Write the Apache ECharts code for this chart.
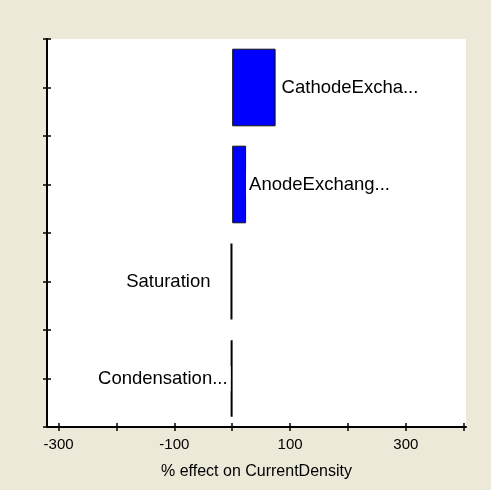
<!DOCTYPE html>
<html><head><meta charset="utf-8">
<script src="https://cdn.jsdelivr.net/npm/echarts@6/dist/echarts.min.js"></script>
<style>html,body{margin:0;padding:0;background:#ECE9D8;} #c{width:491px;height:490px;}</style>
</head><body><div id="c"></div>
<script>
const categories = ['CathodeExcha...', 'AnodeExchang...', 'Saturation', 'Condensation...'];
const effects = [75, 24, -2.5, -2];
const xTickValues = [-300, -200, -100, 0, 100, 200, 300, 400];
const xLabelValues = [-300, -100, 100, 300];
const axisTitle = '% effect on CurrentDensity';

const FONT = '"Liberation Sans", Arial, sans-serif';
const chart = echarts.init(document.getElementById('c'), null, {renderer: 'canvas'});

const seriesData = effects.map((v, i) => ({
  value: v,
  itemStyle: Math.abs(v) < 5 ? {color: '#000', borderColor: '#000', borderWidth: 2} : undefined,
  label: {
    position: v >= 0 ? 'right' : 'left',
    distance: v >= 0 ? (i === 0 ? 3 : 0) : (i === 2 ? 17 : 0)
  }
}));

chart.setOption({
  animation: false,
  backgroundColor: '#ECE9D8',
  grid: {left: 47, top: 39, width: 419, height: 388, show: true, backgroundColor: '#ffffff', borderWidth: 0},
  xAxis: [
    {
      type: 'value', min: -320, max: 404, position: 'bottom',
      splitLine: {show: false},
      axisLine: {show: true, onZero: false, lineStyle: {color: '#000', width: 2}},
      axisTick: {show: true, length: 4, inside: false, customValues: xTickValues, lineStyle: {color: '#000', width: 1.5}},
      axisLabel: {customValues: xLabelValues, color: '#000', fontSize: 15, fontFamily: FONT, margin: 10},
      name: axisTitle, nameLocation: 'middle', nameGap: 37,
      nameTextStyle: {color: '#000', fontSize: 16, fontFamily: FONT}
    },
    {
      type: 'value', min: -320, max: 404, position: 'bottom',
      splitLine: {show: false},
      axisLine: {show: false, onZero: false},
      axisTick: {show: true, length: 4, inside: true, customValues: xTickValues, lineStyle: {color: '#000', width: 1.5}},
      axisLabel: {show: false}
    }
  ],
  yAxis: [
    {
      type: 'category', data: categories, inverse: true,
      axisLine: {show: false, onZero: false}, axisTick: {show: false}, axisLabel: {show: false}
    },
    {
      type: 'value', min: 0, max: 8, interval: 1, position: 'left',
      splitLine: {show: false},
      axisLine: {show: true, onZero: false, lineStyle: {color: '#000', width: 2}},
      axisTick: {show: true, length: 4, lineStyle: {color: '#000', width: 1.5}},
      axisLabel: {show: false}
    },
    {
      type: 'value', min: 0, max: 8, interval: 1, position: 'left',
      splitLine: {show: false},
      axisLine: {show: false, onZero: false},
      axisTick: {show: true, length: 4, inside: true, lineStyle: {color: '#000', width: 1.5}},
      axisLabel: {show: false}
    }
  ],
  series: [{
    type: 'bar',
    xAxisIndex: 0, yAxisIndex: 0,
    data: seriesData,
    barWidth: '80%',
    itemStyle: {color: '#0000FF', borderColor: '#111', borderWidth: 1},
    label: {
      show: true,
      formatter: p => p.name,
      color: '#000', fontSize: 18.5, fontFamily: FONT,
      backgroundColor: '#ffffff', padding: [3, 3]
    }
  }]
});
</script></body></html>
